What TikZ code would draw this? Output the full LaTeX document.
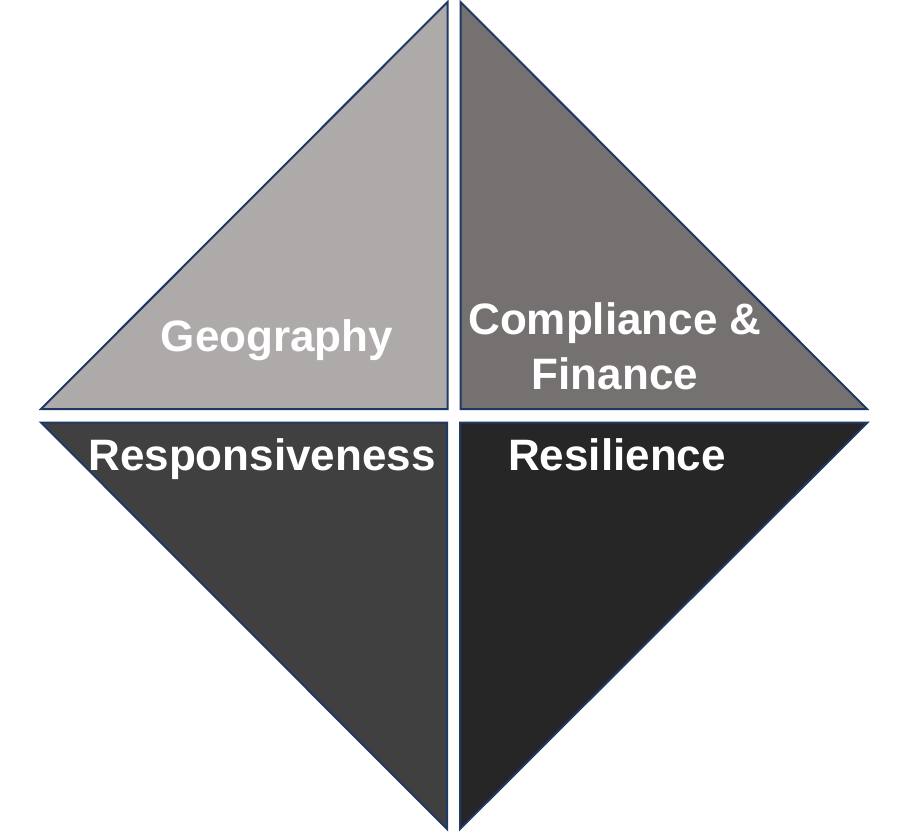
\documentclass[tikz,border=0pt]{standalone}
\usepackage{fontspec}
\setmainfont{Liberation Sans}
\definecolor{cTL}{HTML}{AEAAAA}
\definecolor{cTR}{HTML}{767171}
\definecolor{cBL}{HTML}{404040}
\definecolor{cBR}{HTML}{262626}
\definecolor{edge}{HTML}{1F3864}
\begin{document}
\begin{tikzpicture}[x=1pt,y=-1pt,
  tri/.style={draw=edge,line width=2pt,line join=miter},
  lbl/.style={text=white,font=\fontsize{44}{55}\selectfont\bfseries,anchor=base,inner sep=0pt,align=center}]
\useasboundingbox (0,0) rectangle (910,836);
\fill[white] (0,0) rectangle (910,836);
\draw[tri,fill=cTL] (447.5,2) -- (41,409) -- (447.5,409) -- cycle;
\draw[tri,fill=cTR] (460.5,2) -- (867,409) -- (460.5,409) -- cycle;
\draw[tri,fill=cBL] (41,422.5) -- (447,422.5) -- (447,829) -- cycle;
\draw[tri,fill=cBR] (460,422.5) -- (867.5,422.5) -- (460,829) -- cycle;
\node[lbl] (geo) at (277,351) {Geography};
\node[lbl] (comp) at (615,334) {Compliance \&};
\node[lbl] (fin) at (615,389) {Finance};
\node[lbl] (resp) at (262,470) {Responsiveness};
\node[lbl] (res) at (617,470) {Resilience};
\end{tikzpicture}
\end{document}
